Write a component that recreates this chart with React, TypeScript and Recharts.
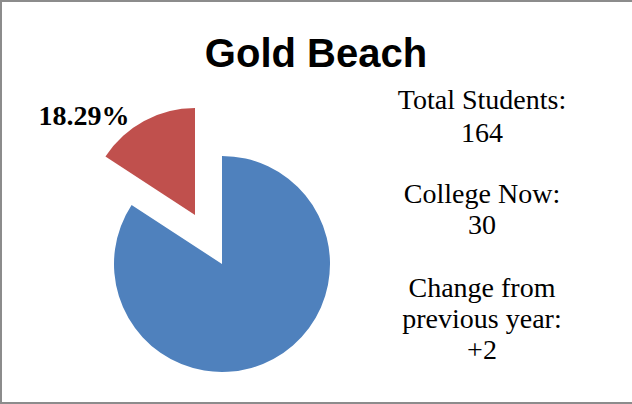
import { PieChart, Pie, Cell } from 'recharts';

// slice sizes as drawn in the picture (the red wedge is ~57 degrees)
const sliceNames = ['Other Students', 'College Now'];
const sliceValues = [160, 30];
const sliceColors = ['#4f81bd', '#c0504d'];

const totalStudents = 164;
const collegeNow = 30;
const changeFromPrevious = 2;

const infoLines = [
  { text: 'Total Students:', y: 109 },
  { text: String(totalStudents), y: 142 },
  { text: 'College Now:', y: 203 },
  { text: String(collegeNow), y: 234 },
  { text: 'Change from', y: 297 },
  { text: 'previous year:', y: 328 },
  { text: `+${changeFromPrevious}`, y: 359 },
];

const data = sliceNames.map((name, i) => ({ name, value: sliceValues[i] }));

const RADIAN = Math.PI / 180;

const renderRedLabel = (props: any) => {
  const { cx, cy, midAngle, outerRadius, index } = props;
  if (index !== 1) return null;
  const r = outerRadius + 20;
  const x = cx + r * Math.cos(-midAngle * RADIAN);
  const y = cy + r * Math.sin(-midAngle * RADIAN);
  return (
    <text
      x={x - 5}
      y={y + 22}
      textAnchor="end"
      fill="#000"
      style={{ fontFamily: '"Liberation Serif", serif', fontWeight: 700, fontSize: 28 }}
    >
      {((collegeNow / totalStudents) * 100).toFixed(2)}%
    </text>
  );
};

export default function App() {
  return (
    <div
      style={{
        position: 'fixed',
        left: 0,
        top: 0,
        width: 634,
        height: 404,
        background: '#fff',
        border: '2px solid #8c8c8c',
        boxSizing: 'border-box',
        overflow: 'hidden',
      }}
    >
      <div style={{ position: 'absolute', left: -2, top: -2 }}>
        <PieChart width={632} height={404} margin={{ top: 0, right: 0, bottom: 0, left: 0 }}>
          <Pie
            data={data}
            dataKey="value"
            nameKey="name"
            cx={222}
            cy={264}
            outerRadius={108}
            startAngle={90}
            endAngle={-270}
            stroke="none"
            isAnimationActive={false}
          >
            {data.map((d, i) => (
              <Cell key={d.name} fill={i === 0 ? sliceColors[0] : 'transparent'} />
            ))}
          </Pie>
          <Pie
            data={data}
            dataKey="value"
            nameKey="name"
            cx={195}
            cy={215}
            outerRadius={107}
            startAngle={90}
            endAngle={-270}
            stroke="none"
            label={renderRedLabel}
            labelLine={false}
            isAnimationActive={false}
          >
            {data.map((d, i) => (
              <Cell key={d.name} fill={i === 1 ? sliceColors[1] : 'transparent'} />
            ))}
          </Pie>
        </PieChart>
        <svg width={632} height={404} style={{ position: 'absolute', left: 0, top: 0, pointerEvents: 'none' }}>
          <text
            x={316}
            y={67}
            textAnchor="middle"
            fill="#000"
            style={{ fontFamily: '"Liberation Sans", Arial, sans-serif', fontWeight: 700, fontSize: 40 }}
          >
            Gold Beach
          </text>
          {infoLines.map((l) => (
            <text
              key={l.text}
              x={482}
              y={l.y}
              textAnchor="middle"
              fill="#000"
              style={{ fontFamily: '"Liberation Serif", serif', fontSize: 28 }}
            >
              {l.text}
            </text>
          ))}
        </svg>
      </div>
    </div>
  );
}
